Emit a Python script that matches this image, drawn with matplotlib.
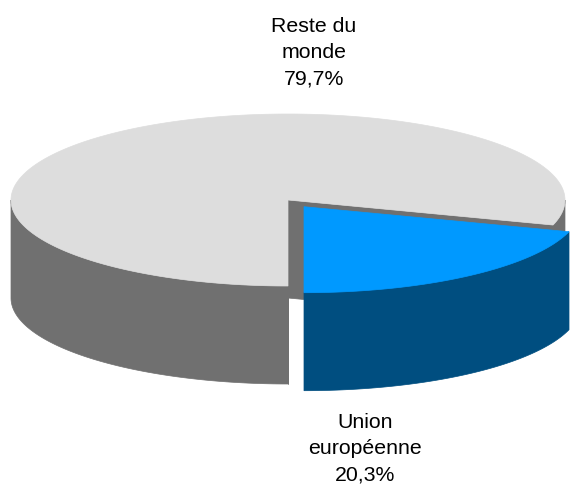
import numpy as np
import matplotlib.pyplot as plt
from matplotlib.patches import Polygon

labels = ['Union\neuropéenne', 'Reste du\nmonde']
shares = [20.3, 79.7]
explode = [0.097, 0.0]
top_colors = ['#0099FF', '#DDDDDD']
side_colors = ['#004E80', '#707070']
label_pos = [(365, 449), (314, 53)]

plt.rcParams['font.family'] = ['Liberation Sans', 'DejaVu Sans']

cx, cy = 288, 200      # centre of the top ellipse (pixels)
a, b = 277, 86         # semi-axes
depth = 98             # thickness of the pie


def rim(theta, ox, oy, dz=0):
    t = np.radians(theta)
    return np.column_stack([cx + ox + a * np.cos(t), cy + oy - b * np.sin(t) + dz])


fig = plt.figure(figsize=(5.7, 4.84), dpi=100)
ax = fig.add_axes([0, 0, 1, 1])
ax.set_xlim(0, 570)
ax.set_ylim(484, 0)
ax.axis('off')

# slice angles, starting at the bottom and going counter-clockwise
starts = []
ang = 270.0
for s in shares:
    starts.append((ang, ang + s / 100 * 360))
    ang += s / 100 * 360


def draw_slice(i, z):
    t0, t1 = starts[i]
    mid = np.radians((t0 + t1) / 2)
    ox = explode[i] * a * np.cos(mid)
    oy = -explode[i] * b * np.sin(mid)
    c = np.array([cx + ox, cy + oy])
    # cut faces that turn toward the viewer
    for tt, sign in ((t0, 1), (t1, -1)):
        normal = np.radians(tt - 90 * sign)
        if np.sin(normal) < 0:
            p = rim([tt], ox, oy)[0]
            quad = [c, p, p + [0, depth], c + [0, depth]]
            ax.add_patch(Polygon(quad, closed=True, fc=side_colors[i],
                                 ec=side_colors[i], lw=0.5, zorder=z))
    # outer wall, front part only
    for lo, hi in ((180, 360), (540, 720)):
        s0, s1 = max(t0, lo), min(t1, hi)
        if s1 > s0:
            th = np.linspace(s0, s1, 120)
            pts = np.vstack([rim(th, ox, oy), rim(th[::-1], ox, oy, depth)])
            ax.add_patch(Polygon(pts, closed=True, fc=side_colors[i],
                                 ec=side_colors[i], lw=0.5, zorder=z + 1))
    # top
    th = np.linspace(t0, t1, 300)
    pts = np.vstack([c, rim(th, ox, oy)])
    ax.add_patch(Polygon(pts, closed=True, fc=top_colors[i],
                         ec=top_colors[i], lw=0.5, zorder=z + 2))


draw_slice(1, 1)
draw_slice(0, 5)

for i, lab in enumerate(labels):
    txt = f"{lab}\n{shares[i]:.1f}%".replace('.', ',')
    ax.text(label_pos[i][0], label_pos[i][1], txt, ha='center', va='center',
            fontsize=15.3, linespacing=1.47, color='black')

fig.savefig('out.png', dpi=100)
